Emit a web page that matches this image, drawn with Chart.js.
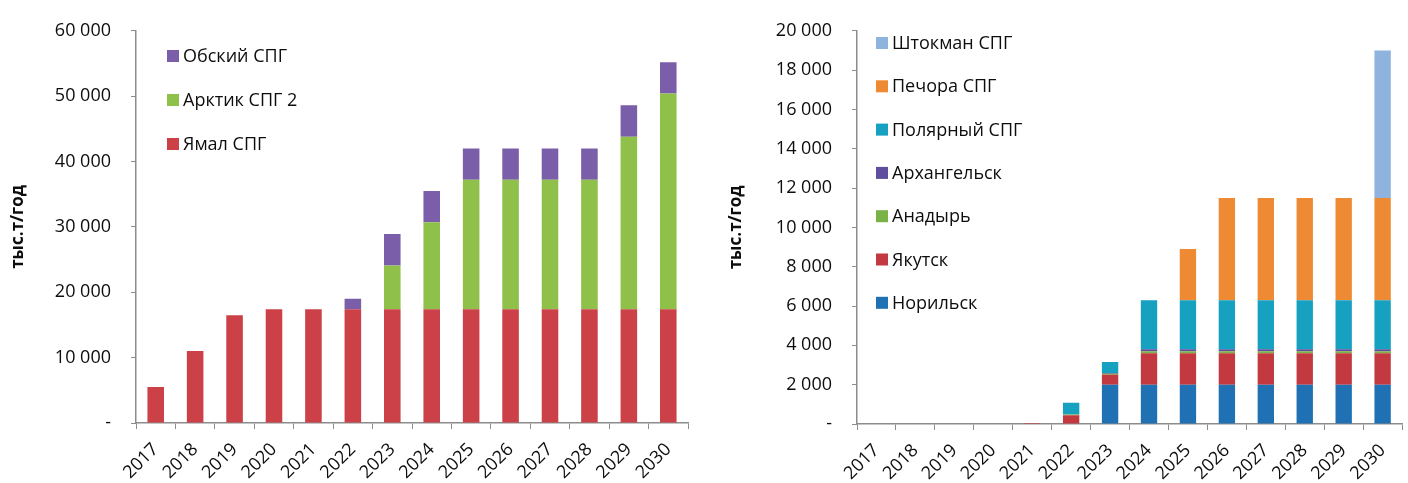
<!DOCTYPE html>
<html>
<head>
<meta charset="utf-8">
<script src="https://cdn.jsdelivr.net/npm/chart.js@4/dist/chart.umd.min.js"></script>
<style>
  html, body { margin: 0; padding: 0; background: #fff; }
  #wrap { position: relative; width: 1408px; height: 483px; }
  .box { position: absolute; top: 0; height: 483px; }
  #boxL { left: 0; width: 700px; }
  #boxR { left: 708px; width: 700px; }
</style>
</head>
<body>
<div id="wrap">
  <div class="box" id="boxL"><canvas id="chartL"></canvas></div>
  <div class="box" id="boxR"><canvas id="chartR"></canvas></div>
</div>
<script>
// Годы
const years = ['2017','2018','2019','2020','2021','2022','2023','2024','2025','2026','2027','2028','2029','2030'];

// Левый график, тыс.т/год
const yamal   = [5500, 11000, 16500, 17400, 17400, 17400, 17400, 17400, 17400, 17400, 17400, 17400, 17400, 17400];
const arktik2 = [0, 0, 0, 0, 0, 0, 6700, 13300, 19800, 19800, 19800, 19800, 26400, 33000];
const obskiy  = [0, 0, 0, 0, 0, 1600, 4800, 4800, 4800, 4800, 4800, 4800, 4800, 4800];

// Правый график, тыс.т/год
const norilsk    = [0, 0, 0, 0, 0, 0, 2000, 2000, 2000, 2000, 2000, 2000, 2000, 2000];
const yakutsk    = [0, 0, 0, 0, 50, 450, 500, 1600, 1600, 1600, 1600, 1600, 1600, 1600];
const anadyr     = [0, 0, 0, 0, 0, 30, 50, 100, 100, 100, 100, 100, 100, 100];
const arkhangelsk= [0, 0, 0, 0, 0, 0, 50, 100, 100, 100, 100, 100, 100, 100];
const polyarny   = [0, 0, 0, 0, 0, 600, 550, 2500, 2500, 2500, 2500, 2500, 2500, 2500];
const pechora    = [0, 0, 0, 0, 0, 0, 0, 0, 2600, 5200, 5200, 5200, 5200, 5200];
const shtokman   = [0, 0, 0, 0, 0, 0, 0, 0, 0, 0, 0, 0, 0, 7500];

const FONT = '"Open Sans", Lato, sans-serif';
const AXIS = '#8c8c8c';
const TXT = '#0d0d0d';

function fmt(v) {
  if (v === 0) return '-';
  return String(v).replace(/\B(?=(\d{3})+(?!\d))/g, ' ');
}

// легенда внутри области графика, сверху вниз в обратном порядке
const innerLegend = {
  id: 'innerLegend',
  afterDraw(chart, args, opts) {
    const ctx = chart.ctx;
    const ds = chart.data.datasets.slice().reverse();
    ctx.save();
    ctx.font = '18px ' + FONT;
    ctx.textBaseline = 'middle';
    ds.forEach((d, i) => {
      const y = opts.top + i * opts.step;
      const x = chart.chartArea.left + opts.left;
      ctx.fillStyle = d.backgroundColor;
      ctx.fillRect(x, y - 6, 12, 12);
      ctx.fillStyle = TXT;
      ctx.fillText(d.label, x + 16, y + 1);
    });
    ctx.restore();
  }
};

function makeChart(id, sets, maxY, step, yWidth, xHeight, pad, legendOpts) {
  return new Chart(document.getElementById(id), {
    type: 'bar',
    data: {
      labels: years,
      datasets: sets.map(s => ({
        label: s.label,
        data: s.data,
        backgroundColor: s.color,
        borderWidth: 0,
        barPercentage: 0.42,
        categoryPercentage: 1
      }))
    },
    options: {
      responsive: true,
      maintainAspectRatio: false,
      animation: false,
      layout: { padding: pad },
      plugins: {
        legend: { display: false },
        tooltip: { enabled: false },
        innerLegend: legendOpts
      },
      scales: {
        x: {
          stacked: true,
          grid: { display: true, drawOnChartArea: false, color: AXIS, tickLength: 6, offset: true },
          border: { color: AXIS, width: 1.5 },
          ticks: { color: TXT, font: { family: FONT, size: 18 }, maxRotation: 45, minRotation: 45, padding: 10 },
          afterFit(scale) { scale.height = xHeight; }
        },
        y: {
          stacked: true,
          min: 0,
          max: maxY,
          grid: { display: true, drawOnChartArea: false, color: AXIS, tickLength: 5 },
          border: { color: AXIS, width: 1.5 },
          ticks: { stepSize: step, color: TXT, font: { family: FONT, size: 18 }, padding: 20, callback: v => fmt(v) },
          title: { display: true, text: 'тыс.т/год', color: TXT, font: { family: FONT, size: 17, weight: 'bold' }, padding: 0 },
          afterFit(scale) { scale.width = yWidth; }
        }
      }
    },
    plugins: [innerLegend]
  });
}

makeChart('chartL', [
  { label: 'Ямал СПГ', data: yamal, color: '#cc4148' },
  { label: 'Арктик СПГ 2', data: arktik2, color: '#8fc04a' },
  { label: 'Обский СПГ', data: obskiy, color: '#7b5eaa' }
], 60000, 10000, 128, 60, { top: 20, right: 12, left: 8, bottom: 0 }, { top: 56, step: 44, left: 31 });

makeChart('chartR', [
  { label: 'Норильск', data: norilsk, color: '#1f71b3' },
  { label: 'Якутск', data: yakutsk, color: '#c23a40' },
  { label: 'Анадырь', data: anadyr, color: '#79b247' },
  { label: 'Архангельск', data: arkhangelsk, color: '#5f4d9e' },
  { label: 'Полярный СПГ', data: polyarny, color: '#17a1c0' },
  { label: 'Печора СПГ', data: pechora, color: '#ee8a33' },
  { label: 'Штокман СПГ', data: shtokman, color: '#8eb3dc' }
], 20000, 2000, 131, 59, { top: 3, right: 3, left: 18, bottom: 0 }, { top: 43, step: 43.3, left: 19 });
</script>
</body>
</html>
